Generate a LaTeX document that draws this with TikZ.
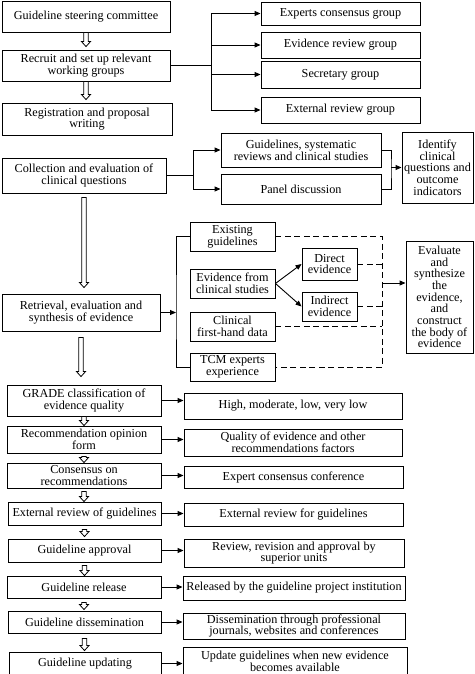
\documentclass[tikz,border=0pt]{standalone}
\usepackage{fontspec}
\setmainfont{Liberation Serif}
\usetikzlibrary{calc,arrows.meta}
\tikzset{
  box/.style={draw, line width=0.9pt, fill=white, inner sep=1pt, align=center,
    font=\fontsize{12.2}{11.7}\selectfont},
  arr/.style={line width=0.9pt, -{Triangle[length=6pt,width=5pt]}},
  ln/.style={line width=0.9pt},
  thinln/.style={line width=0.6pt},
  dsh/.style={line width=1pt, dash pattern=on 6pt off 3.5pt},
  hollow/.style={line width=0.8pt, fill=white,
    to path={let \p1=(\tikztostart), \p2=(\tikztotarget) in
      (\x1-2.2pt,\y1) -- (\x1+2.2pt,\y1) -- (\x1+2.2pt,\y2+5pt) -- (\x1+4.5pt,\y2+5pt)
      -- (\x1,\y2) -- (\x1-4.5pt,\y2+5pt) -- (\x1-2.2pt,\y2+5pt) -- cycle}}
}
\begin{document}
\begin{tikzpicture}[x=1pt,y=-1pt]
\useasboundingbox (0,0) rectangle (474,674);
\clip (0,0) rectangle (474,674);
\fill[white] (0,0) rectangle (474,674);
% left column
\node[box, minimum width=168pt, minimum height=31pt] (steer) at (86,16.5) {Guideline steering committee};
\node[box, minimum width=168pt, minimum height=31pt] (recruit) at (86,65.5) {Recruit and set up relevant\\working groups};
\node[box, minimum width=170pt, minimum height=32pt] (reg) at (87,119) {Registration and proposal\\writing};
\node[box, minimum width=164pt, minimum height=35pt] (coll) at (84,175.5) {Collection and evaluation of\\clinical questions};
\node[box, minimum width=158pt, minimum height=37pt] (retr) at (81,312.5) {Retrieval, evaluation and\\synthesis of evidence};
\node[box, minimum width=154pt, minimum height=31pt] (grade) at (84,400.5) {GRADE classification of\\evidence quality};
\node[box, minimum width=154pt, minimum height=27pt] (recom) at (84,439.5) {Recommendation opinion\\form};
\node[box, minimum width=154pt, minimum height=25pt] (cons) at (84,475.5) {Consensus on\\recommendations};
\node[box, minimum width=153pt, minimum height=23pt] (ext) at (84.5,513.5) {External review of guidelines};
\node[box, minimum width=153pt, minimum height=23pt] (appr) at (84.5,550.5) {Guideline approval};
\node[box, minimum width=154pt, minimum height=22pt] (rel) at (84,587) {Guideline release};
\node[box, minimum width=153pt, minimum height=22pt] (diss) at (84.5,622) {Guideline dissemination};
\node[box, minimum width=152pt, minimum height=23pt] (upd) at (85,663.5) {Guideline updating};
% groups
\node[box, minimum width=159pt, minimum height=23pt] (exp) at (340.5,13.5) {Experts consensus group};
\node[box, minimum width=159pt, minimum height=26pt] (evr) at (340.5,45) {Evidence review group};
\node[box, minimum width=159pt, minimum height=27pt] (sec) at (340.5,74.5) {Secretary group};
\node[box, minimum width=159pt, minimum height=26pt] (extg) at (340.5,110) {External review group};
% clinical questions
\node[box, minimum width=160pt, minimum height=34pt] (guid) at (301,150) {Guidelines, systematic\\reviews and clinical studies};
\node[box, minimum width=160pt, minimum height=30pt] (panel) at (301,189) {Panel discussion};
\node[box, minimum width=71pt, minimum height=71pt] (ident) at (437.5,167.5) {Identify\\clinical\\questions and\\outcome\\indicators};
% evidence
\node[box, minimum width=85pt, minimum height=29pt] (exist) at (232.5,236.5) {Existing\\guidelines};
\node[box, minimum width=85pt, minimum height=29pt] (evid) at (232.5,283.5) {Evidence from\\clinical studies};
\node[box, minimum width=85pt, minimum height=29pt] (clin) at (232.5,326.5) {Clinical\\first-hand data};
\node[box, minimum width=85pt, minimum height=28pt] (tcm) at (232.5,367) {TCM experts\\experience};
\node[box, minimum width=55pt, minimum height=32pt] (direct) at (329.5,264) {Direct\\evidence};
\node[box, minimum width=55pt, minimum height=29pt] (indir) at (329.5,306.5) {Indirect\\evidence};
\node[box, minimum width=67pt, minimum height=112pt] (eval) at (439.5,297) {Evaluate\\and\\synthesize\\the\\evidence,\\and\\construct\\the body of\\evidence};
% right column lower
\node[box, minimum width=218pt, minimum height=26pt] (high) at (293,406) {High, moderate, low, very low};
\node[box, minimum width=218pt, minimum height=27pt] (qual) at (293,442.5) {Quality of evidence and other\\recommendations factors};
\node[box, minimum width=219pt, minimum height=22pt] (expc) at (293.5,477) {Expert consensus conference};
\node[box, minimum width=219pt, minimum height=23pt] (extr) at (293.5,514.5) {External review for guidelines};
\node[box, minimum width=220pt, minimum height=28pt] (rev) at (294,553) {Review, revision and approval by\\superior units};
\node[box, minimum width=222pt, minimum height=24pt] (relb) at (294,588) {Released by the guideline project institution};
\node[box, minimum width=222pt, minimum height=26pt] (dis) at (294,626) {Dissemination through professional\\journals, websites and conferences};
\node[box, minimum width=224pt, minimum height=28pt] (updb) at (295,661) {Update guidelines when new evidence\\becomes available};
% hollow arrows
\draw[hollow] (steer.south) to ([yshift=3pt]recruit.north);
\draw[hollow] (recruit.south) to ([yshift=3pt]reg.north);
\draw[hollow] ([yshift=-4pt]coll.south) to ([yshift=6pt]retr.north);
\draw[hollow] ([yshift=-6pt]retr.south) to ([yshift=8pt]grade.north);
\draw[hollow] (grade.south) to (recom.north);
\draw[hollow] ([yshift=-3pt]recom.south) to (cons.north);
\draw[hollow] ([yshift=-3pt]cons.south) to (ext.north);
\draw[hollow] ([yshift=-4pt]ext.south) to ([yshift=2pt]appr.north);
\draw[hollow] ([yshift=-3pt]appr.south) to (rel.north);
\draw[hollow] ([yshift=-4pt]rel.south) to ([yshift=1pt]diss.north);
\draw[hollow] ([yshift=-5pt]diss.south) to ([yshift=1pt]upd.north);
% groups connectors
\coordinate (j1) at (211,65.5);
\draw[ln] (recruit.east) -- (j1);
\foreach \n in {exp,evr,sec,extg} \draw[arr] (j1) |- (\n.west);
\coordinate (j2) at (193,175.5);
\draw[ln] (coll.east) -- (j2);
\draw[arr] (j2) |- (guid.west);
\draw[arr] (j2) |- (panel.west);
\coordinate (j3) at (391,167.5);
\draw[ln] (guid.east) -| (j3) |- (panel.east);
\draw[arr] (j3) -- (ident.west);
% evidence connectors
\coordinate (j4) at (176,312.5);
\draw[thinln] (exist.west) -| (j4) |- (tcm.west);
\draw[arr] (retr.east) -- (j4);
\draw[arr] (evid.east) -- (direct.west);
\draw[arr] (evid.east) -- (indir.west);
\coordinate (j5) at (382,283);
\draw[dsh] (exist.east) -- (exist.east -| j5) -- (tcm.east -| j5) -- (tcm.east);
\draw[dsh] (direct.east) -- (direct.east -| j5);
\draw[dsh] (indir.east) -- (indir.east -| j5);
\draw[dsh] (clin.east) -- (clin.east -| j5);
\draw[arr] (j5) -- (eval.west |- j5);
% step connectors
\draw[arr] (grade.east) -- (high.west |- grade.east);
\draw[arr] (recom.east) -- (qual.west |- recom.east);
\draw[arr] (cons.east) -- (expc.west |- cons.east);
\draw[arr] (ext.east) -- (extr.west |- ext.east);
\draw[arr] (appr.east) -- (rev.west |- appr.east);
\draw[arr] (rel.east) -- (relb.west |- rel.east);
\draw[arr] (diss.east) -- (dis.west |- diss.east);
\draw[arr] (upd.east) -- (updb.west |- upd.east);
\end{tikzpicture}
\end{document}
